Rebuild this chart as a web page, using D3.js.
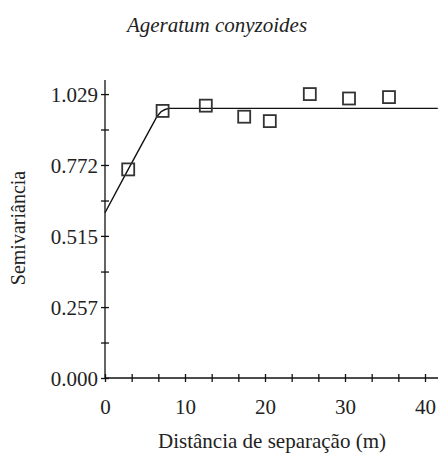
<!DOCTYPE html>
<html lang="pt">
<head>
<meta charset="UTF-8">
<title>Ageratum conyzoides</title>
<script src="https://cdn.jsdelivr.net/npm/d3@7"></script>
<style>
  body { margin: 0; background: #fff; }
  text { font-family: 'Liberation Serif', 'Times New Roman', serif; fill: #222; }
</style>
</head>
<body>
<div id="chart"></div>
<script>
// experimental semivariogram (distance m, semivariance)
const lagDist = [2.9, 7.2, 12.6, 17.4, 20.6, 25.6, 30.5, 35.5];
const semivar = [0.756, 0.968, 0.987, 0.947, 0.931, 1.029, 1.013, 1.018];

// fitted model curve
const modelDist = [0, 2.9, 6.5, 7.0, 7.5, 8.0, 41.6];
const modelVals = [0.599, 0.756, 0.948, 0.965, 0.973, 0.977, 0.977];

// axis ticks
const yTickVals = [0, 0.1286, 0.257, 0.3858, 0.515, 0.6432, 0.772, 0.9006, 1.029];
const yTickLabels = ['0.000', '', '0.257', '', '0.515', '', '0.772', '', '1.029'];
const xTickVals = [0, 3.333, 6.667, 10, 13.333, 16.667, 20, 23.333, 26.667, 30, 33.333, 36.667, 40];
const xTickLabels = ['0', '', '', '10', '', '', '20', '', '', '30', '', '', '40'];

const W = 438, H = 455;
const svg = d3.select('#chart').append('svg')
  .attr('width', W).attr('height', H);

const x = d3.scaleLinear().domain([0, 41.625]).range([105, 438]);
const y = d3.scaleLinear().domain([0, 1.08]).range([378, 80]);

// title
svg.append('text')
  .attr('x', 217).attr('y', 32)
  .attr('text-anchor', 'middle')
  .style('font-size', '21px')
  .style('font-style', 'italic')
  .text('Ageratum conyzoides');

// y axis
const yAxis = d3.axisLeft(y)
  .tickValues(yTickVals)
  .tickSize(4)
  .tickFormat((d, i) => yTickLabels[i]);
const gy = svg.append('g')
  .attr('transform', `translate(${x(0)},0)`)
  .call(yAxis);
gy.select('.domain').remove();
gy.selectAll('.tick line').attr('x1', 4).attr('x2', -4).attr('stroke', '#111').attr('stroke-width', 1.3);
gy.selectAll('.tick text').attr('x', -7).attr('dy', '0.35em')
  .style('font-size', '21px').attr('font-family', null);
gy.append('line')
  .attr('y1', y.range()[0]).attr('y2', y.range()[1])
  .attr('stroke', '#111').attr('stroke-width', 1.3);

// x axis
const xAxis = d3.axisBottom(x)
  .tickValues(xTickVals)
  .tickSize(4)
  .tickFormat((d, i) => xTickLabels[i]);
const gx = svg.append('g')
  .attr('transform', `translate(0,${y(0)})`)
  .call(xAxis);
gx.select('.domain').remove();
gx.selectAll('.tick line').attr('y1', -4).attr('y2', 4).attr('stroke', '#111').attr('stroke-width', 1.3);
gx.selectAll('.tick text').attr('y', 21).attr('dy', '0.71em')
  .style('font-size', '21px').attr('font-family', null);
gx.append('line')
  .attr('x1', x.range()[0]).attr('x2', x.range()[1])
  .attr('stroke', '#111').attr('stroke-width', 1.3);

// axis titles
svg.append('text')
  .attr('x', 272).attr('y', 448)
  .attr('text-anchor', 'middle')
  .style('font-size', '21px')
  .text('Distância de separação (m)');

svg.append('text')
  .attr('transform', `translate(25, 228) rotate(-90)`)
  .attr('text-anchor', 'middle')
  .style('font-size', '20px')
  .text('Semivariância');

// model line
const line = d3.line()
  .x((d, i) => x(modelDist[i]))
  .y(d => y(d));
svg.append('path')
  .datum(modelVals)
  .attr('d', line)
  .attr('fill', 'none')
  .attr('stroke', '#111')
  .attr('stroke-width', 1.4);

// experimental points
const sq = 12;
svg.selectAll('.pt')
  .data(lagDist)
  .enter().append('rect')
  .attr('class', 'pt')
  .attr('x', d => x(d) - sq / 2)
  .attr('y', (d, i) => y(semivar[i]) - sq / 2)
  .attr('width', sq).attr('height', sq)
  .attr('fill', 'none')
  .attr('stroke', '#333')
  .attr('stroke-width', 1.8);
</script>
</body>
</html>
